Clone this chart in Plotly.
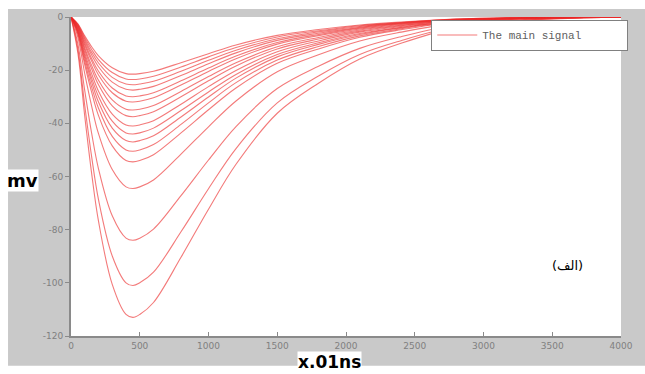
import plotly.graph_objects as go

# Sample times (units of 0.01 ns)
time_pts = [0, 50, 100, 150, 200, 300, 400, 450, 500, 600, 800, 1000,
            1200, 1500, 1800, 2100, 2400, 2800, 3200, 4000]

# Signal traces in mV, from the shallowest to the deepest pulse
sig_01 = [0, -2.6, -7.1, -11.2, -14.6, -19.1, -21.3, -21.5, -21.3, -20.4, -17.2, -13.8, -10.5, -6.9, -4.7, -3.0, -1.9, -0.8, -0.3, 0]
sig_02 = [0, -2.8, -7.8, -12.2, -16.0, -20.9, -23.3, -23.5, -23.3, -22.3, -18.8, -15.0, -11.5, -7.5, -5.2, -3.3, -2.1, -0.8, -0.3, 0]
sig_03 = [0, -3.1, -8.4, -13.3, -17.3, -22.7, -25.2, -25.5, -25.2, -24.2, -20.4, -16.3, -12.5, -8.2, -5.6, -3.6, -2.2, -0.9, -0.4, 0]
sig_04 = [0, -3.3, -9.1, -14.3, -18.7, -24.5, -27.2, -27.5, -27.2, -26.1, -22.0, -17.6, -13.5, -8.8, -6.1, -3.9, -2.4, -1.0, -0.4, 0]
sig_05 = [0, -3.6, -9.9, -15.6, -20.4, -26.7, -29.7, -30.0, -29.7, -28.5, -24.0, -19.2, -14.7, -9.6, -6.6, -4.2, -2.6, -1.1, -0.4, 0]
sig_06 = [0, -3.8, -10.6, -16.6, -21.8, -28.5, -31.7, -32.0, -31.7, -30.4, -25.6, -20.5, -15.7, -10.2, -7.0, -4.5, -2.8, -1.1, -0.4, 0]
sig_07 = [0, -4.2, -11.6, -18.2, -23.8, -31.2, -34.7, -35.0, -34.7, -33.3, -28.0, -22.4, -17.2, -11.2, -7.7, -4.9, -3.1, -1.2, -0.5, 0]
sig_08 = [0, -4.5, -12.4, -19.5, -25.5, -33.4, -37.1, -37.5, -37.1, -35.6, -30.0, -24.0, -18.4, -12.0, -8.3, -5.3, -3.3, -1.3, -0.5, 0]
sig_09 = [0, -4.9, -13.5, -21.3, -27.9, -36.5, -40.6, -41.0, -40.6, -39.0, -32.8, -26.2, -20.1, -13.1, -9.0, -5.7, -3.6, -1.4, -0.6, 0]
sig_10 = [0, -5.3, -14.5, -22.9, -29.9, -39.2, -43.6, -44.0, -43.6, -41.8, -35.2, -28.2, -21.6, -14.1, -9.7, -6.2, -3.9, -1.5, -0.6, 0]
sig_11 = [0, -5.6, -15.5, -24.4, -32.0, -41.8, -46.5, -47.0, -46.5, -44.7, -37.6, -30.1, -23.0, -15.0, -10.3, -6.6, -4.1, -1.6, -0.7, 0]
sig_12 = [0, -6.1, -16.7, -26.3, -34.3, -44.9, -50.0, -50.5, -50.0, -48.0, -40.4, -32.3, -24.7, -16.2, -11.1, -7.1, -4.4, -1.8, -0.7, 0]
sig_13 = [0, -6.5, -18.0, -28.3, -37.1, -48.5, -54.0, -54.5, -54.0, -51.8, -43.6, -34.9, -26.7, -17.4, -12.0, -7.6, -4.8, -1.9, -0.8, 0]
sig_14 = [0, -7.7, -21.3, -33.5, -43.9, -57.4, -63.9, -64.5, -63.9, -61.3, -51.6, -41.3, -31.6, -20.6, -14.2, -9.0, -5.7, -2.3, -0.9, 0]
sig_15 = [0, -10.1, -27.7, -43.7, -57.1, -74.8, -83.2, -84.0, -83.2, -79.8, -67.2, -53.8, -41.2, -26.9, -18.5, -11.8, -7.4, -2.9, -1.2, 0]
sig_16 = [0, -12.1, -33.3, -52.5, -68.7, -89.9, -100.0, -101.0, -100.0, -96.0, -80.8, -64.6, -49.5, -32.3, -22.2, -14.1, -8.9, -3.5, -1.4, 0]
sig_17 = [0, -13.6, -37.3, -58.8, -76.8, -100.6, -111.9, -113.0, -111.9, -107.4, -90.4, -72.3, -55.4, -36.2, -24.9, -15.8, -9.9, -4.0, -1.6, 0]

signals = [sig_01, sig_02, sig_03, sig_04, sig_05, sig_06, sig_07, sig_08, sig_09,
           sig_10, sig_11, sig_12, sig_13, sig_14, sig_15, sig_16, sig_17]

x_ticks = [0, 500, 1000, 1500, 2000, 2500, 3000, 3500, 4000]
y_ticks = [0, -20, -40, -60, -80, -100, -120]

fig = go.Figure()
for i, sig in enumerate(signals):
    fig.add_trace(go.Scatter(
        x=time_pts, y=sig, mode="lines",
        line=dict(color="rgba(236,40,40,0.62)", width=1.1, shape="spline", smoothing=1.0),
        name="The main signal", showlegend=(i == 0),
    ))

tick_font = dict(family="DejaVu Sans", size=9, color="#808080")

fig.update_layout(
    width=645, height=374,
    margin=dict(l=71, r=15, t=13, b=38),
    paper_bgcolor="#c9c9c9",
    plot_bgcolor="white",
    showlegend=True,
    legend=dict(
        orientation="h",
        x=0.655, y=0.992, xanchor="left", yanchor="top",
        bgcolor="white", bordercolor="#808080", borderwidth=1,
        font=dict(family="Liberation Mono", size=11, color="#606060"),
        itemwidth=40, entrywidth=140,
    ),
    xaxis=dict(
        range=[0, 4000], tickvals=x_ticks, ticktext=[str(v) for v in x_ticks],
        showgrid=False, zeroline=False, showline=True, linecolor="#8a8a8a", linewidth=2,
        ticks="inside", ticklen=4, tickcolor="#8a8a8a", tickfont=tick_font,
    ),
    yaxis=dict(
        range=[-120, 0], tickvals=y_ticks, ticktext=[str(v) for v in y_ticks],
        showgrid=False, zeroline=False, showline=True, linecolor="#8a8a8a", linewidth=2,
        ticks="outside", ticklen=4, tickcolor="#8a8a8a", tickfont=tick_font,
    ),
    shapes=[
        # white margins framing the grey panel
        dict(type="rect", xref="paper", yref="paper", x0=-0.14, x1=-0.1145, y0=-0.2, y1=1.1,
             fillcolor="white", line=dict(width=0), layer="below"),
        dict(type="rect", xref="paper", yref="paper", x0=-0.14, x1=1.05, y0=1.0248, y1=1.1,
             fillcolor="white", line=dict(width=0), layer="below"),
        dict(type="rect", xref="paper", yref="paper", x0=-0.14, x1=1.05, y0=-0.2, y1=-0.0929,
             fillcolor="white", line=dict(width=0), layer="below"),
    ],
    annotations=[
        dict(text="<b>mv</b>", xref="paper", yref="paper", x=-0.118, y=0.489,
             xanchor="left", yanchor="middle", showarrow=False, bgcolor="white",
             font=dict(family="DejaVu Sans", size=18, color="black"), borderpad=0),
        dict(text="<b>x.01ns</b>", xref="paper", yref="paper", x=0.47, y=-0.0805,
             xanchor="center", yanchor="middle", showarrow=False, bgcolor="white",
             font=dict(family="DejaVu Sans", size=17, color="black"), borderpad=0),
        dict(text="(الف)", xref="paper", yref="paper", x=0.902, y=0.22,
             xanchor="center", yanchor="middle", showarrow=False,
             font=dict(family="DejaVu Sans", size=13, color="black")),
    ],
)

fig.write_html("out.html")
